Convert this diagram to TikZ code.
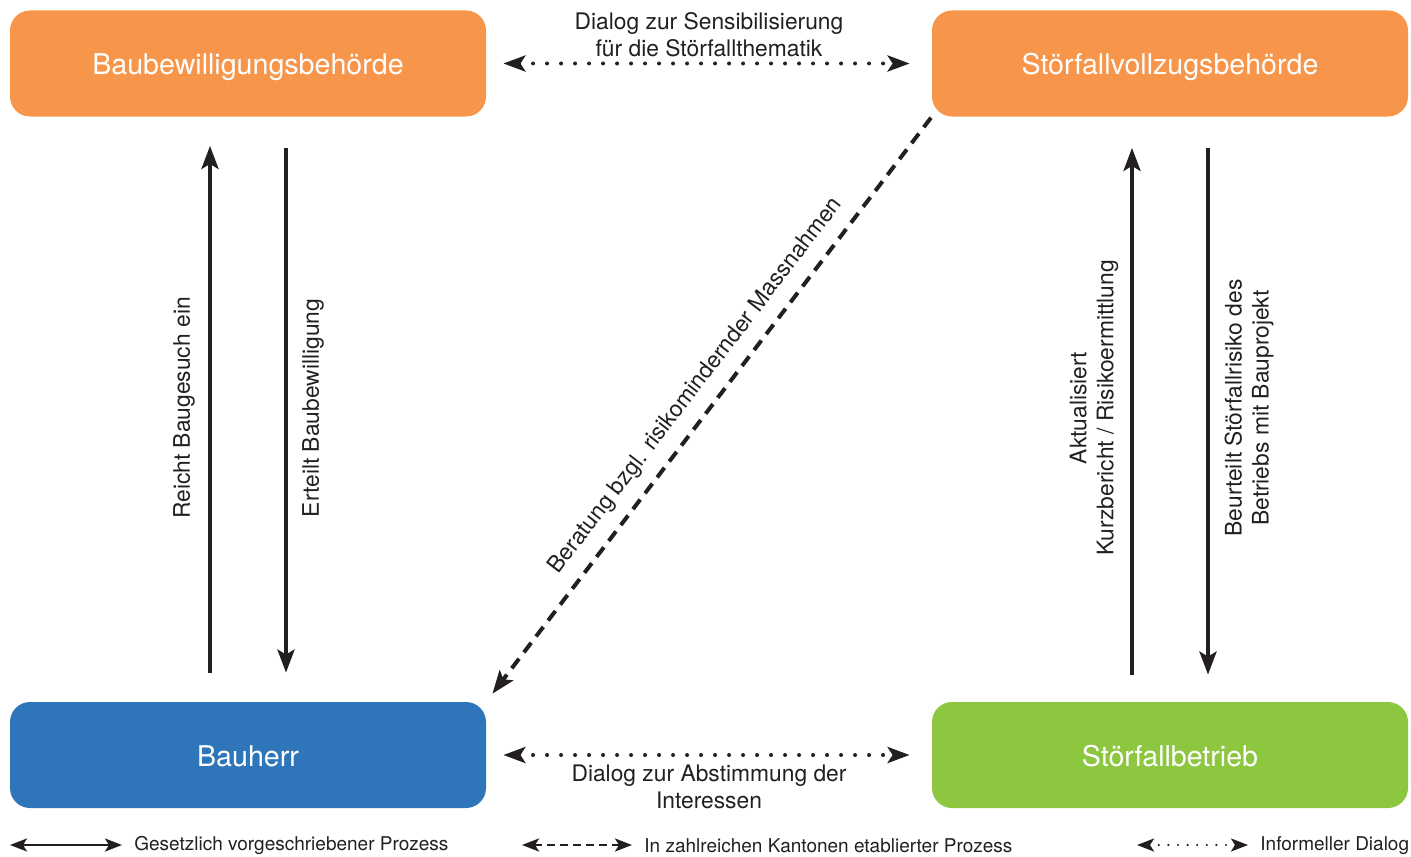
\documentclass[tikz,border=0pt]{standalone}
\usepackage{fontspec}
\setmainfont{TeX Gyre Heros}
\usetikzlibrary{arrows.meta}
\definecolor{orangebox}{HTML}{F7964A}
\definecolor{bluebox}{HTML}{2E75BA}
\definecolor{greenbox}{HTML}{8DC63F}
\definecolor{ink}{HTML}{231F20}
\begin{document}
\begin{tikzpicture}[x=0.5pt,y=-0.5pt,
  box/.style={rounded corners=10pt, minimum width=238pt, minimum height=53pt, inner sep=0pt, text=white, text height=11.5pt, text depth=0pt, font=\fontsize{14.3}{16}\selectfont},
  lbl/.style={text=ink, font=\fontsize{11.4}{13.5}\selectfont, align=center, inner sep=0pt},
  leg/.style={text=ink, font=\fontsize{9.5}{11}\selectfont, anchor=west, inner sep=0pt},
  solidarr/.style={draw=ink, line width=2pt, -{Stealth[length=11.5pt,width=8.5pt,inset=2.5pt]}},
  dasharr/.style={draw=ink, line width=2pt, dash pattern=on 6pt off 4pt, -{Stealth[length=11.5pt,width=8.5pt,inset=2.5pt]}},
  dotarr/.style={draw=ink, line width=2pt, line cap=round, dash pattern=on 0pt off 7pt, {Stealth[length=11pt,width=8pt,inset=2.5pt]}-{Stealth[length=11pt,width=8pt,inset=2.5pt]}},
  legsolid/.style={draw=ink, line width=1.2pt, {Stealth[length=8.5pt,width=6.5pt,inset=2pt]}-{Stealth[length=8.5pt,width=6.5pt,inset=2pt]}},
  legdash/.style={draw=ink, line width=1.3pt, dash pattern=on 4pt off 2.5pt, {Stealth[length=8.5pt,width=6.5pt,inset=2pt]}-{Stealth[length=8.5pt,width=6.5pt,inset=2pt]}},
  legdot/.style={draw=ink, line width=1.2pt, line cap=round, dash pattern=on 0pt off 4.8pt, {Stealth[length=8.5pt,width=6.5pt,inset=2pt]}-{Stealth[length=8.5pt,width=6.5pt,inset=2pt]}},
]
\useasboundingbox (0,0) rectangle (1411,856);

% boxes
\node[box, fill=orangebox] (bb) at (248,63.5) {Baubewilligungsbehörde};
\node[box, fill=orangebox] (sv) at (1170,63.5) {Störfallvollzugsbehörde};
\node[box, fill=bluebox] (bh) at (248,755) {Bauherr};
\node[box, fill=greenbox] (sb) at (1170,755) {Störfallbetrieb};

% vertical arrows left
\draw[solidarr] ([xshift=-19pt,yshift=14.5pt]bh.north) -- ([xshift=-19pt,yshift=-14.5pt]bb.south);
\draw[solidarr] ([xshift=19pt,yshift=-15.5pt]bb.south) -- ([xshift=19pt,yshift=14.5pt]bh.north);
% vertical arrows right
\draw[solidarr] ([xshift=-19pt,yshift=13.5pt]sb.north) -- ([xshift=-19pt,yshift=-15.5pt]sv.south);
\draw[solidarr] ([xshift=19pt,yshift=-15.5pt]sv.south) -- ([xshift=19pt,yshift=13.5pt]sb.north);

% diagonal dashed
\draw[dasharr, shorten <=0.5pt, shorten >=5pt] (sv.south west) -- (bh.north east);

% dotted horizontal
\draw[dotarr] ([xshift=8.5pt]bb.east) -- ([xshift=-11pt]sv.west);
\draw[dotarr] ([xshift=8.5pt]bh.east) -- ([xshift=-11pt]sb.west);

% labels
\node[lbl] (ltop) at (709,34.5) {Dialog zur Sensibilisierung\\für die Störfallthematik};
\node[lbl] (lbot) at (709,787) {Dialog zur Abstimmung der\\Interessen};
\node[lbl, rotate=90] (l1) at (184,408) {Reicht Baugesuch ein};
\node[lbl, rotate=90] (l2) at (313,408) {Erteilt Baubewilligung};
\node[lbl, rotate=90] (l3) at (1094,408) {Aktualisiert\\Kurzbericht / Risikoermittlung};
\node[lbl, rotate=90] (l4) at (1249,408) {Beurteilt Störfallrisiko des\\Betriebs mit Bauprojekt};
\node[lbl, rotate=52.5] (ldiag) at (696,386) {Beratung bzgl. risikomindernder Massnahmen};

% legend
\coordinate (la1) at (10,845); \coordinate (la2) at (122,845);
\coordinate (lb1) at (522,845); \coordinate (lb2) at (632,845);
\coordinate (lc1) at (1137,845); \coordinate (lc2) at (1248,845);
\draw[legsolid] (la1) -- (la2);
\draw[legdash] (lb1) -- (lb2);
\draw[legdot] (lc1) -- (lc2);
\node[leg] (lt1) at (134,845.5) {Gesetzlich vorgeschriebener Prozess};
\node[leg] (lt2) at (644,845.5) {In zahlreichen Kantonen etablierter Prozess};
\node[leg] (lt3) at (1260,845.5) {Informeller Dialog};
\end{tikzpicture}
\end{document}
